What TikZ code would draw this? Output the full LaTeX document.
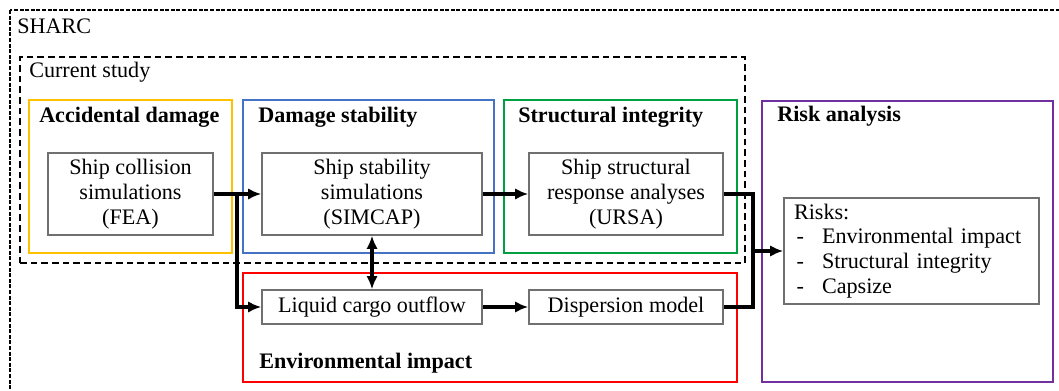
\documentclass[tikz,border=0pt]{standalone}
\usepackage{fontspec}
\setmainfont{Liberation Serif}
\usetikzlibrary{arrows.meta}
\definecolor{cYel}{HTML}{FFC000}
\definecolor{cBlu}{HTML}{4472C4}
\definecolor{cGrn}{HTML}{00A040}
\definecolor{cRed}{HTML}{FF0000}
\definecolor{cPur}{HTML}{7030A0}
\definecolor{cGry}{HTML}{707070}
\tikzset{
  txt/.style={font=\fontsize{16.6pt}{18.6pt}\selectfont},
  ttl/.style={txt, font=\fontsize{16.6pt}{18.6pt}\selectfont\bfseries, anchor=west, inner sep=0pt},
  frame/.style={draw=#1, line width=1.6pt, inner sep=0pt},
  gbox/.style={txt, draw=cGry, line width=0.9pt, align=center, inner sep=0pt},
  conn/.style={line width=2.6pt, line join=miter},
  arr/.style={conn, -{Latex[length=10pt,width=8.5pt]}},
  darr/.style={conn, {Latex[length=10pt,width=8.5pt]}-{Latex[length=10pt,width=8.5pt]}},
}
\begin{document}
\begin{tikzpicture}[x=0.75pt, y=-0.75pt]
\useasboundingbox (0,0) rectangle (1059,391);
\clip (0,0) rectangle (1059,391);
% outer SHARC frame
\draw[line width=0.8pt, dash pattern=on 3pt off 1.2pt] (10,10) rectangle (1075,405);
\node[txt, anchor=west, inner sep=0pt] (sharc) at (17,26) {SHARC};
% current study frame
\node[draw, line width=1.5pt, dash pattern=on 5pt off 3pt, inner sep=0pt,
      minimum width=543.75pt, minimum height=154.5pt] (cur) at (382.5,160) {};
\node[txt, anchor=west, inner sep=0pt] (curt) at (29,72) {Current study};
% coloured frames
\node[frame=cYel, minimum width=152.25pt, minimum height=114.75pt] (fAD) at (130.5,176.5) {};
\node[frame=cBlu, minimum width=188.25pt, minimum height=114.75pt] (fDS) at (368.5,176.5) {};
\node[frame=cGrn, minimum width=174.75pt, minimum height=114.75pt] (fSI) at (620.5,176.5) {};
\node[frame=cRed, minimum width=370.5pt, minimum height=81.75pt] (fEI) at (490,327.5) {};
\node[frame=cPur, minimum width=218.25pt, minimum height=210.75pt] (fRA) at (907.5,241.5) {};
% titles
\node[ttl] (tAD) at (39,117) {Accidental damage};
\node[ttl] (tDS) at (258,117) {Damage stability};
\node[ttl] (tSI) at (518,117) {Structural integrity};
\node[ttl] (tRA) at (777,116) {Risk analysis};
\node[ttl] (tEI) at (259,363) {Environmental impact};
% inner boxes
\node[gbox, minimum width=123.75pt, minimum height=61.5pt] (coll) at (130.5,194) {Ship collision\\simulations\\(FEA)};
\node[gbox, minimum width=165pt, minimum height=61.5pt] (stab) at (372,194) {Ship stability\\simulations\\(SIMCAP)};
\node[gbox, minimum width=145.5pt, minimum height=61.5pt] (stru) at (626,194) {Ship structural\\response analyses\\(URSA)};
\node[gbox, minimum width=165pt, minimum height=25.5pt] (liq) at (372,307) {Liquid cargo outflow};
\node[gbox, minimum width=145.5pt, minimum height=25.5pt] (disp) at (626,307) {Dispersion model};
\node[gbox, align=left, text width=176.25pt, inner xsep=7.5pt, minimum height=79.5pt] (risk) at (911.5,251)
  {Risks:\\
   \hspace*{2pt}\makebox[19pt][l]{-}Environmental impact\\
   \hspace*{2pt}\makebox[19pt][l]{-}Structural integrity\\
   \hspace*{2pt}\makebox[19pt][l]{-}Capsize};
% connectors
\coordinate (j1) at (237,194);
\coordinate (j2) at (753,251);
\draw[arr] (coll.east) -- (stab.west);
\draw[arr] (j1) |- (liq.west);
\draw[arr] (stab.east) -- (stru.west);
\draw[darr] (stab.south) -- (liq.north);
\draw[arr] (liq.east) -- (disp.west);
\draw[conn] (stru.east) -| (j2) |- (disp.east);
\draw[arr] (j2) -- (risk.west);
\end{tikzpicture}
\end{document}
